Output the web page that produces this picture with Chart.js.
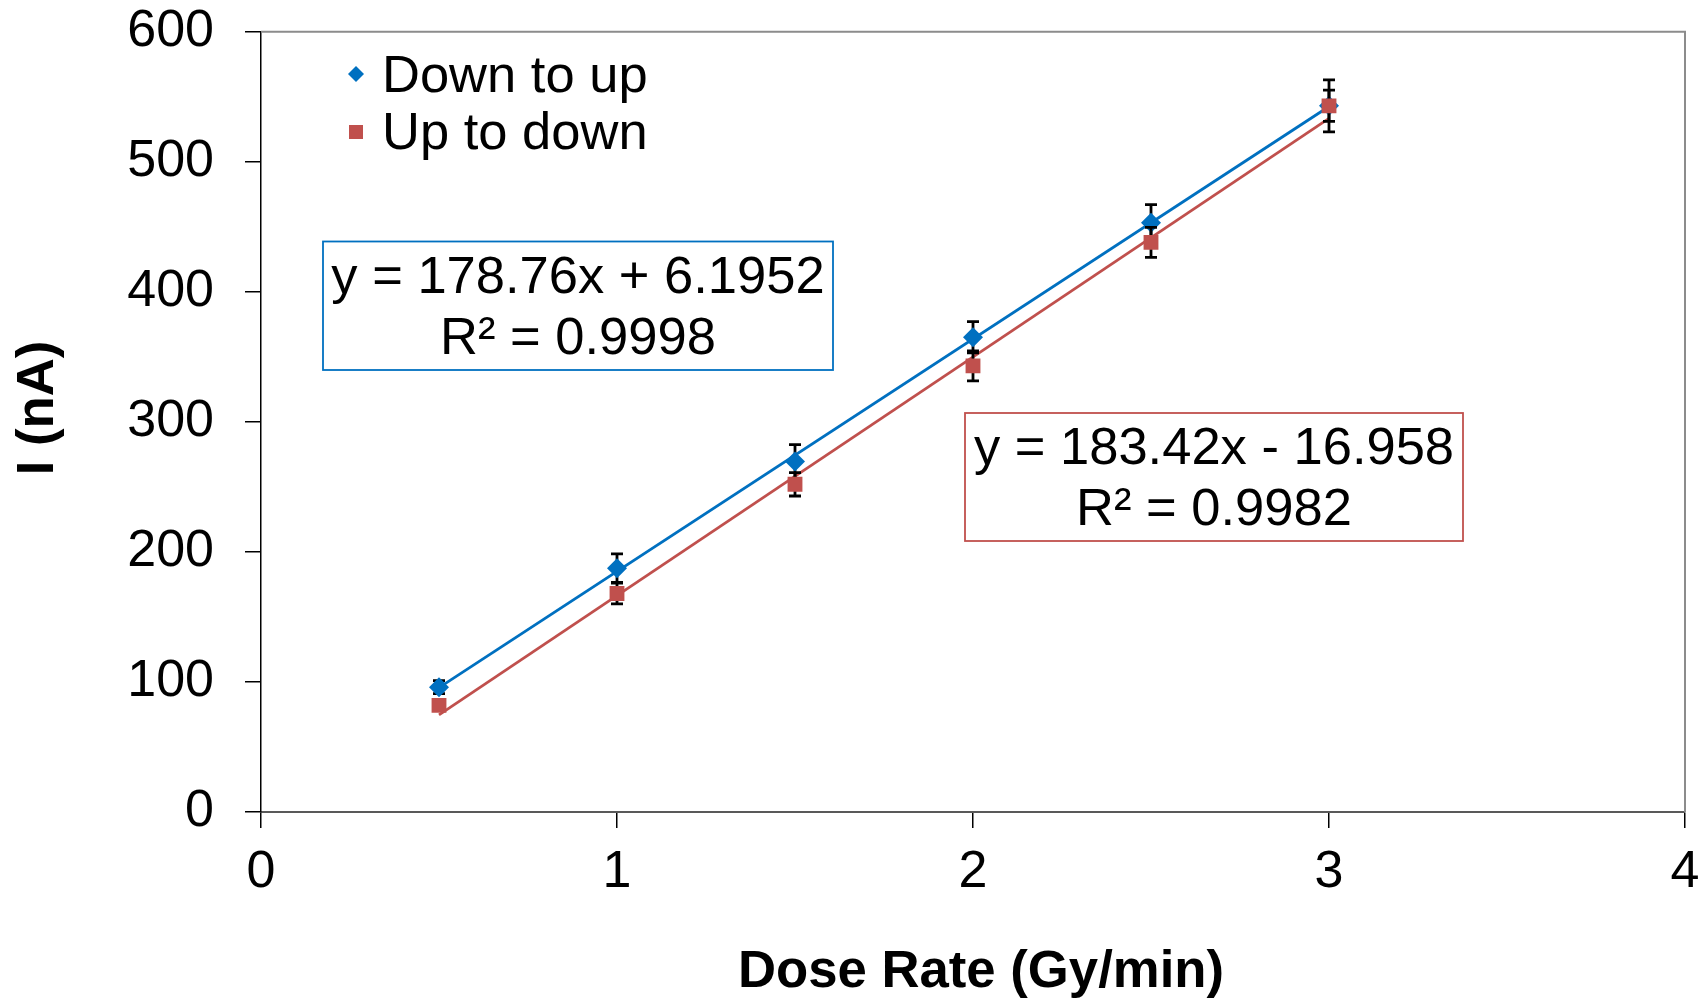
<!DOCTYPE html>
<html>
<head>
<meta charset="utf-8">
<script src="https://cdn.jsdelivr.net/npm/chart.js@4/dist/chart.umd.min.js"></script>
<style>
html,body{margin:0;padding:0;background:#fff;}
#wrap{width:1706px;height:1000px;position:relative;}
</style>
</head>
<body>
<div id="wrap"><canvas id="c" width="1706" height="1000"></canvas></div>
<script>
// ---- data ----
const doseRates = [0.5, 1, 1.5, 2, 2.5, 3];
const downToUp = [96, 187.5, 269.5, 365, 453, 543];
const downToUpErr = [5, 11, 13, 12, 14, 12];
const upToDown = [82, 168, 252, 343, 438, 543];
const upToDownErr = [3, 8, 9, 11.5, 11.5, 20];
const trendX = [0.5, 3];
const downToUpTrend = [95.6, 542.5];
const upToDownTrend = [74.7, 533.3];
const xTicks = [0, 1, 2, 3, 4];
const yTicks = [0, 100, 200, 300, 400, 500, 600];
const downToUpEq = ['y = 178.76x + 6.1952', 'R² = 0.9998'];
const upToDownEq = ['y = 183.42x - 16.958', 'R² = 0.9982'];
const seriesNames = ['Down to up', 'Up to down'];
const xTitle = 'Dose Rate (Gy/min)';
const yTitle = 'I (nA)';

const BLUE = '#0070C0';
const RED = '#C0504D';
const FONT = "'Liberation Sans', Arial, sans-serif";

const pts = (xs, ys) => xs.map((x, i) => ({x: x, y: ys[i]}));

const errorBars = {
  id: 'errorBars',
  beforeDatasetDraw(chart, args) {
    const ds = chart.data.datasets[args.index];
    if (!ds.errors) return;
    const xs = chart.scales.x, ys = chart.scales.y, ctx = chart.ctx;
    ctx.save();
    ctx.strokeStyle = '#000';
    ctx.lineWidth = 2.8;
    ds.data.forEach((p, i) => {
      const e = ds.errors[i];
      const px = xs.getPixelForValue(p.x);
      const top = ys.getPixelForValue(p.y + e);
      const bot = ys.getPixelForValue(p.y - e);
      ctx.beginPath();
      ctx.moveTo(px, top); ctx.lineTo(px, bot);
      ctx.moveTo(px - 6, top); ctx.lineTo(px + 6, top);
      ctx.moveTo(px - 6, bot); ctx.lineTo(px + 6, bot);
      ctx.stroke();
    });
    ctx.restore();
  }
};

const frameAndAnnotations = {
  id: 'frameAndAnnotations',
  beforeDatasetsDraw(chart) {
    const a = chart.chartArea, ctx = chart.ctx;
    ctx.save();
    ctx.strokeStyle = '#8c8c8c';
    ctx.lineWidth = 2;
    ctx.beginPath();
    ctx.moveTo(a.left, a.top); ctx.lineTo(a.right, a.top); ctx.lineTo(a.right, a.bottom);
    ctx.stroke();
    ctx.restore();
  },
  afterDraw(chart) {
    const ctx = chart.ctx;
    ctx.save();
    // axis titles
    ctx.fillStyle = '#000';
    ctx.font = 'bold 52.7px ' + FONT;
    ctx.textAlign = 'center';
    ctx.textBaseline = 'middle';
    ctx.fillText(xTitle, 981, 972);
    ctx.save();
    ctx.translate(38, 408);
    ctx.rotate(-Math.PI / 2);
    ctx.fillText(yTitle, 0, 0);
    ctx.restore();
    // equation boxes
    const boxes = [
      {lines: downToUpEq, color: BLUE, l: 323, t: 241.5, r: 833, b: 370},
      {lines: upToDownEq, color: RED, l: 965, t: 413, r: 1463, b: 541}
    ];
    ctx.font = '52.5px ' + FONT;
    ctx.textAlign = 'center';
    ctx.textBaseline = 'middle';
    boxes.forEach(bx => {
      ctx.fillStyle = '#fff';
      ctx.fillRect(bx.l, bx.t, bx.r - bx.l, bx.b - bx.t);
      ctx.strokeStyle = bx.color;
      ctx.lineWidth = 1.8;
      ctx.strokeRect(bx.l, bx.t, bx.r - bx.l, bx.b - bx.t);
      ctx.fillStyle = '#000';
      const cx = (bx.l + bx.r) / 2, cy = (bx.t + bx.b) / 2;
      ctx.fillText(bx.lines[0], cx, cy - 27);
      ctx.fillText(bx.lines[1], cx, cy + 34);
    });
    // legend
    ctx.font = '52.5px ' + FONT;
    ctx.textAlign = 'left';
    ctx.textBaseline = 'alphabetic';
    ctx.fillStyle = BLUE;
    ctx.beginPath();
    ctx.moveTo(356, 66); ctx.lineTo(364, 74); ctx.lineTo(356, 82); ctx.lineTo(348, 74);
    ctx.closePath(); ctx.fill();
    ctx.fillStyle = RED;
    ctx.fillRect(349, 125, 14, 14);
    ctx.fillStyle = '#000';
    ctx.fillText(seriesNames[0], 382, 92);
    ctx.fillText(seriesNames[1], 382, 149);
    ctx.restore();
  }
};

new Chart(document.getElementById('c'), {
  type: 'scatter',
  data: {
    datasets: [
      {label: seriesNames[0], data: pts(doseRates, downToUp), errors: downToUpErr,
       pointStyle: 'rectRot', pointRadius: 10, backgroundColor: BLUE, borderColor: BLUE, borderWidth: 0, order: 1},
      {label: seriesNames[1], data: pts(doseRates, upToDown), errors: upToDownErr,
       pointStyle: 'rect', pointRadius: 10.5, backgroundColor: RED, borderColor: RED, borderWidth: 0, order: 0},
      {type: 'line', label: 'trend1', data: pts(trendX, downToUpTrend), borderColor: BLUE, borderWidth: 2.8,
       pointRadius: 0, fill: false, order: 2},
      {type: 'line', label: 'trend2', data: pts(trendX, upToDownTrend), borderColor: RED, borderWidth: 2.8,
       pointRadius: 0, fill: false, order: 3}
    ]
  },
  options: {
    responsive: false,
    animation: false,
    devicePixelRatio: 1,
    layout: {padding: {left: 0, top: 31.7, right: 21, bottom: 0}},
    plugins: {legend: {display: false}, tooltip: {enabled: false}},
    scales: {
      x: {
        type: 'linear', min: 0, max: 4,
        afterBuildTicks: s => { s.ticks = xTicks.map(v => ({value: v})); },
        afterFit: s => { s.height = 188; s.paddingLeft = 0; s.paddingRight = 0; },
        ticks: {color: '#000', font: {family: FONT, size: 52}, padding: 13, maxRotation: 0},
        grid: {drawOnChartArea: false, drawTicks: true, tickLength: 16, color: '#000', lineWidth: 1.5},
        border: {display: true, color: '#595959', width: 2},
        title: {display: false}
      },
      y: {
        type: 'linear', min: 0, max: 600,
        afterBuildTicks: s => { s.ticks = yTicks.map(v => ({value: v})); },
        afterFit: s => { s.width = 261; s.paddingTop = 0; s.paddingBottom = 0; },
        ticks: {color: '#000', font: {family: FONT, size: 52}, padding: 31},
        grid: {drawOnChartArea: false, drawTicks: true, tickLength: 16, color: '#000', lineWidth: 1.5},
        border: {display: true, color: '#000', width: 1.5},
        title: {display: false}
      }
    }
  },
  plugins: [errorBars, frameAndAnnotations]
});
</script>
</body>
</html>
